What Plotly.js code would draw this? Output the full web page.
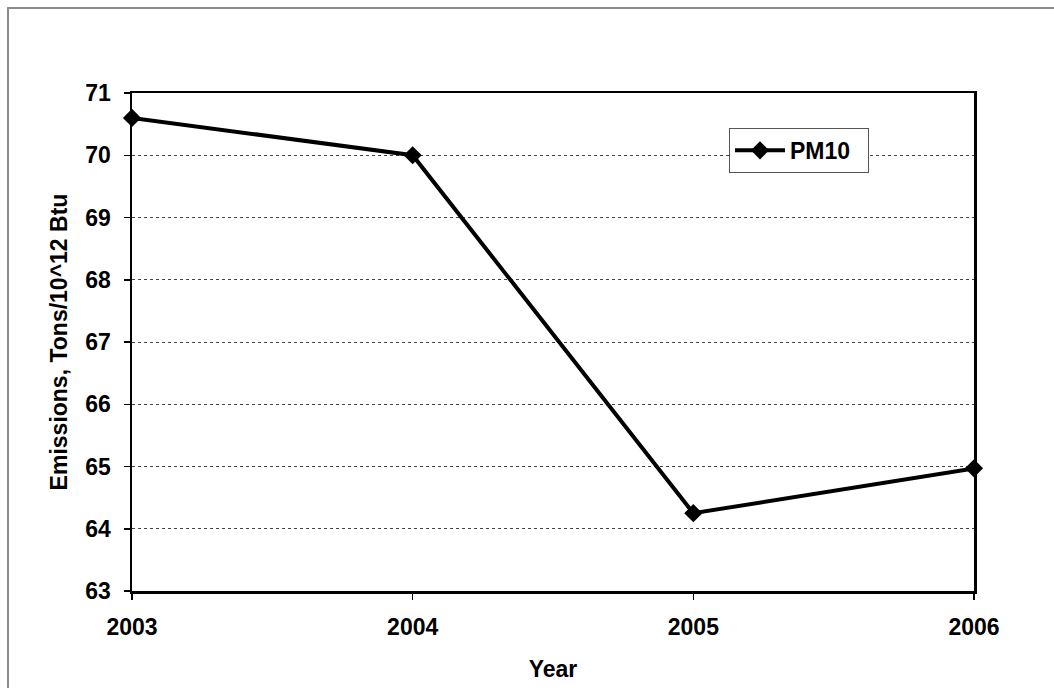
<!DOCTYPE html>
<html>
<head>
<meta charset="utf-8">
<script src="https://cdn.plot.ly/plotly-3.0.1.min.js"></script>
<style>
  html, body { margin: 0; padding: 0; background: #fff; }
  #wrap { position: relative; width: 1054px; height: 688px; overflow: hidden; }
  #chart { width: 1054px; height: 688px; }
  /* thin grey frame around the chart sheet */
  #frame {
    position: absolute; left: 7px; top: 7px; width: 1100px; height: 720px;
    border-top: 2px solid #8c8c8c; border-left: 2px solid #8c8c8c;
    pointer-events: none;
  }
</style>
</head>
<body>
<div id="wrap">
  <div id="chart"></div>
  <div id="frame"></div>
</div>
<script>
// PM10 emission factor by year
const years = [2003, 2004, 2005, 2006];
const pm10 = [70.6, 70.0, 64.25, 64.97];
const yTicks = [63, 64, 65, 66, 67, 68, 69, 70, 71];

const font = { family: 'Liberation Sans, Arial, sans-serif', color: '#000', size: 23, weight: 'bold' };

const trace = {
  x: years,
  y: pm10,
  type: 'scatter',
  mode: 'lines+markers',
  name: '<b>PM10</b>\u00a0\u00a0',
  line: { color: '#000', width: 4 },
  marker: { symbol: 'diamond', size: 14, color: '#000' },
  cliponaxis: false
};

const layout = {
  width: 1054,
  height: 688,
  margin: { l: 132, r: 80, t: 93, b: 97 },
  paper_bgcolor: '#fff',
  plot_bgcolor: '#fff',
  font: font,
  showlegend: true,
  legend: {
    x: 0.709, y: 0.93, xanchor: 'left', yanchor: 'top',
    bgcolor: '#fff', bordercolor: '#555', borderwidth: 1,
    itemwidth: 50,
    font: { family: font.family, size: 23, color: '#000' }
  },
  xaxis: {
    range: [2003, 2006],
    tickvals: years,
    ticktext: years.map(String),
    ticks: 'outside', ticklen: 6, tickcolor: '#000', tickwidth: 1.5,
    showline: true, linecolor: '#000', linewidth: 2.5, mirror: true,
    showgrid: false, zeroline: false,
    tickfont: { family: font.family, size: 23, color: '#000', weight: 'bold' },
    ticklabelstandoff: 8,
    title: { text: '<b>Year</b>', standoff: 22, font: { family: font.family, size: 23, color: '#000' } }
  },
  yaxis: {
    range: [63, 71],
    tickvals: yTicks,
    ticks: 'outside', ticklen: 6, tickcolor: '#000', tickwidth: 1.5,
    showline: true, linecolor: '#000', linewidth: 2.5, mirror: true,
    showgrid: true, gridcolor: '#444', gridwidth: 1, griddash: '3px,3px',
    zeroline: false,
    tickfont: { family: font.family, size: 23, color: '#000', weight: 'bold' },
    ticklabelstandoff: 8,
    title: { text: '<b>Emissions, Tons/10^12 Btu</b>', standoff: 12, font: { family: font.family, size: 23, color: '#000' } }
  }
};

Plotly.newPlot('chart', [trace], layout, { displayModeBar: false, staticPlot: true });
</script>
</body>
</html>
